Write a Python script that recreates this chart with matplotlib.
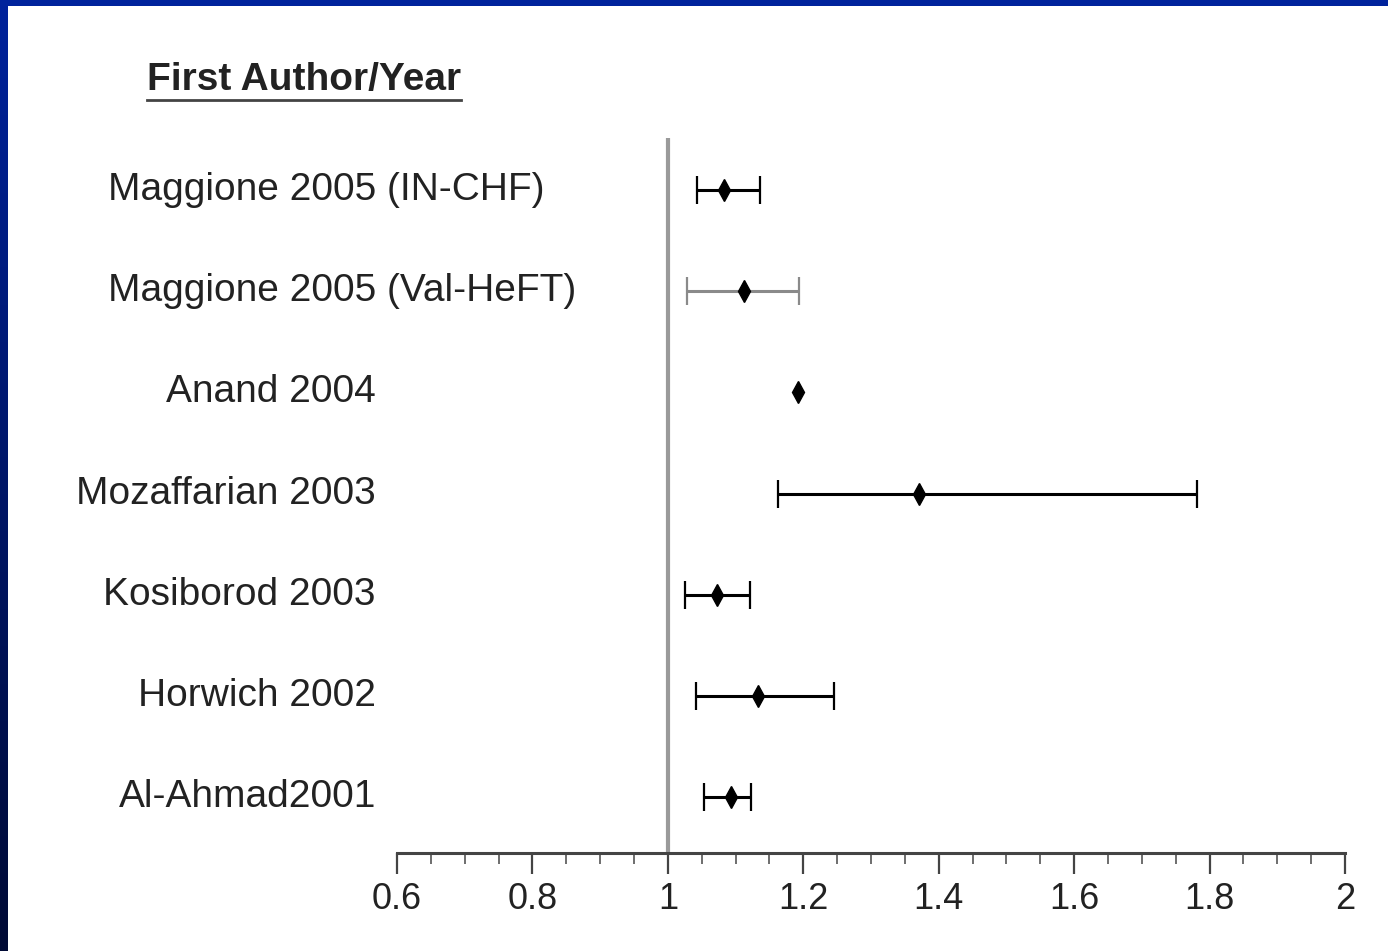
import numpy as np
import matplotlib
matplotlib.use("Agg")
import matplotlib.pyplot as plt
from matplotlib.patches import Rectangle
from matplotlib.lines import Line2D
from matplotlib.ticker import MultipleLocator
from matplotlib.colors import LinearSegmentedColormap

plt.rcParams['font.family'] = ['Liberation Sans', 'DejaVu Sans']

# Study data (hazard ratios with 95% CI), top to bottom
studies = ["Maggione 2005 (IN-CHF)", "Maggione 2005 (Val-HeFT)", "Anand 2004",
           "Mozaffarian 2003", "Kosiborod 2003", "Horwich 2002", "Al-Ahmad2001"]
estimate = [1.083, 1.113, 1.192, 1.371, 1.073, 1.133, 1.093]
lower = [1.043, 1.028, None, 1.163, 1.025, 1.042, 1.053]
upper = [1.136, 1.194, None, 1.782, 1.121, 1.246, 1.123]

# styling per row (not data)
line_colors = ["black", "#8a8a8a", "black", "black", "black", "black", "black"]
left_aligned = [True, True, False, False, False, False, False]

fig = plt.figure(figsize=(13.88, 9.51), dpi=100)
fig.patch.set_facecolor("white")

# slide background border (blue strip top and left)
fig.patches.append(Rectangle((0, 1 - 6 / 951), 1, 6 / 951, transform=fig.transFigure,
                             facecolor="#00239c", edgecolor="none", zorder=0))
grad = np.linspace(0, 1, 256).reshape(-1, 1)
cmap = LinearSegmentedColormap.from_list("slide", ["#000a35", "#00239c"])
ax_bg = fig.add_axes([0, 0, 8 / 1388, 1])
ax_bg.imshow(grad, aspect="auto", cmap=cmap, origin="lower", extent=[0, 1, 0, 1])
ax_bg.axis("off")

ax = fig.add_axes([397 / 1388, 98 / 951, 948 / 1388, 715 / 951])
n = len(studies)
ypos = np.arange(n, 0, -1)

ax.axvline(1, color="#9a9a9a", lw=3.0, zorder=1)

for i in range(n):
    if lower[i] is not None:
        ax.errorbar(estimate[i], ypos[i],
                    xerr=[[estimate[i] - lower[i]], [upper[i] - estimate[i]]],
                    fmt="none", ecolor=line_colors[i], elinewidth=2.2,
                    capsize=10, capthick=1.6, zorder=2)
    ax.plot(estimate[i], ypos[i], marker="d", color="black", markersize=11, zorder=3)

ax.set_xlim(0.6, 2.0)
ax.set_ylim(0.447, 7.514)
ax.set_xticks([0.6, 0.8, 1.0, 1.2, 1.4, 1.6, 1.8, 2.0])
ax.set_xticklabels(["0.6", "0.8", "1", "1.2", "1.4", "1.6", "1.8", "2"])
ax.xaxis.set_minor_locator(MultipleLocator(0.05))
ax.tick_params(axis="x", which="major", length=15, width=1.6, color="#444444",
               labelsize=26, labelcolor="#222222", pad=6)
ax.tick_params(axis="x", which="minor", length=8, width=1.2, color="#555555")
ax.set_yticks([])
for s in ["top", "right", "left"]:
    ax.spines[s].set_visible(False)
ax.spines["bottom"].set_color("#444444")
ax.spines["bottom"].set_linewidth(2.2)
ax.patch.set_alpha(0)

# study labels
for i in range(n):
    y_fig = ax.transData.transform((0, ypos[i]))[1] / fig.bbox.height
    if left_aligned[i]:
        fig.text(108 / 1388, y_fig, studies[i], ha="left", va="center",
                 fontsize=28, color="#222222")
    else:
        fig.text(376 / 1388, y_fig, studies[i], ha="right", va="center",
                 fontsize=28, color="#222222")

# header, bold and underlined
hdr = fig.text(147 / 1388, 1 - 80 / 951, "First Author/Year", ha="left", va="center",
               fontsize=28, fontweight="bold", color="#222222")
fig.canvas.draw()
bb = hdr.get_window_extent(renderer=fig.canvas.get_renderer())
uy = (bb.y0 - 2) / fig.bbox.height
fig.add_artist(Line2D([bb.x0 / fig.bbox.width, bb.x1 / fig.bbox.width], [uy, uy],
                      transform=fig.transFigure, color="#444444", lw=2))

fig.savefig("out.png", dpi=100, facecolor="white")
